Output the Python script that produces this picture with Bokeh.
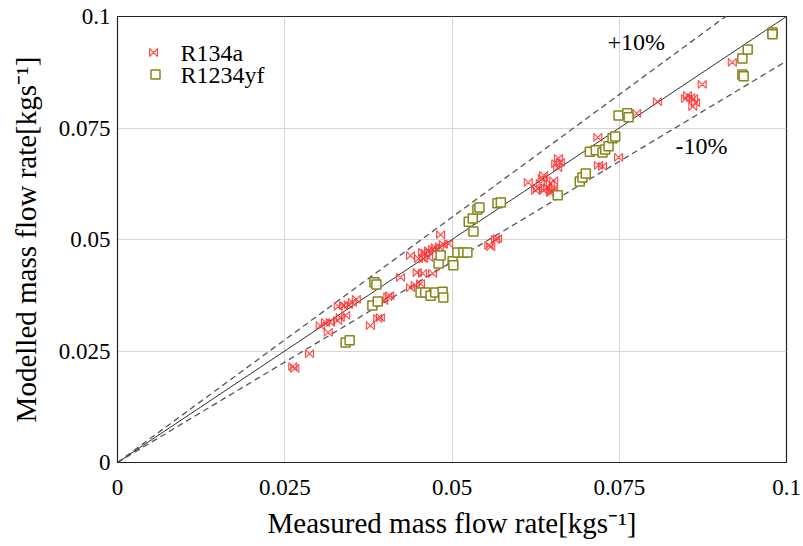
from bokeh.plotting import figure
from bokeh.models import FixedTicker, Range1d
from bokeh.core.properties import value
from bokeh.embed import file_html
from bokeh.resources import INLINE

# ---------------- data (kg/s) ----------------
r134a_measured = [0.0262, 0.0265, 0.0287, 0.0303, 0.0311, 0.0318, 0.0315, 0.0329, 0.0333,
                  0.0341, 0.0330, 0.0338, 0.0345, 0.0351, 0.0357, 0.0378, 0.0389, 0.0393,
                  0.0398, 0.0404, 0.0407, 0.0423, 0.0438, 0.0445, 0.0453, 0.0448, 0.0456,
                  0.0471, 0.0438, 0.0450, 0.0457, 0.0465, 0.0456, 0.0460, 0.0465, 0.0471,
                  0.0475, 0.0481, 0.0487, 0.0495, 0.0483, 0.0555, 0.0558, 0.0565, 0.0568,
                  0.0614, 0.0628, 0.0632, 0.0637, 0.0643, 0.0647, 0.0652, 0.0625, 0.0647,
                  0.0650, 0.0637, 0.0635, 0.0659, 0.0662, 0.0658, 0.0655, 0.0652, 0.0718,
                  0.0719, 0.0725, 0.0749, 0.0776, 0.0807, 0.0849, 0.0852, 0.0857, 0.0861,
                  0.0864, 0.0860, 0.0874, 0.0919]
r134a_modelled = [0.0215, 0.0211, 0.0244, 0.0307, 0.0314, 0.0314, 0.0292, 0.0318, 0.0325,
                  0.0330, 0.0350, 0.0352, 0.0354, 0.0359, 0.0366, 0.0307, 0.0323, 0.0325,
                  0.0363, 0.0372, 0.0374, 0.0415, 0.0392, 0.0397, 0.0401, 0.0426, 0.0424,
                  0.0424, 0.0464, 0.0457, 0.0457, 0.0460, 0.0471, 0.0469, 0.0475, 0.0478,
                  0.0482, 0.0484, 0.0489, 0.0491, 0.0511, 0.0487, 0.0484, 0.0500, 0.0502,
                  0.0628, 0.0614, 0.0626, 0.0610, 0.0617, 0.0605, 0.0614, 0.0610, 0.0626,
                  0.0608, 0.0644, 0.0637, 0.0682, 0.0673, 0.0661, 0.0670, 0.0632, 0.0729,
                  0.0666, 0.0664, 0.0684, 0.0783, 0.0809, 0.0816, 0.0823, 0.0818, 0.0816,
                  0.0807, 0.0798, 0.0848, 0.0897]

r1234yf_measured = [0.0341, 0.0347, 0.0381, 0.0389, 0.0384, 0.0387, 0.0453, 0.0460, 0.0468,
                    0.0475, 0.0486, 0.0487, 0.0480, 0.0483, 0.0501, 0.0502, 0.0508, 0.0517,
                    0.0523, 0.0525, 0.0531, 0.0532, 0.0538, 0.0541, 0.0568, 0.0573, 0.0658,
                    0.0691, 0.0695, 0.0700, 0.0706, 0.0715, 0.0725, 0.0729, 0.0734, 0.0740,
                    0.0744, 0.0749, 0.0762, 0.0764, 0.0934, 0.0936, 0.0934, 0.0942, 0.0979,
                    0.0979]
r1234yf_modelled = [0.0269, 0.0274, 0.0352, 0.0361, 0.0404, 0.0399, 0.0381, 0.0381, 0.0374,
                    0.0381, 0.0383, 0.0370, 0.0446, 0.0464, 0.0451, 0.0442, 0.0471, 0.0471,
                    0.0471, 0.0540, 0.0547, 0.0518, 0.0567, 0.0572, 0.0581, 0.0583, 0.0599,
                    0.0630, 0.0639, 0.0648, 0.0697, 0.0700, 0.0695, 0.0702, 0.0709, 0.0727,
                    0.0731, 0.0778, 0.0783, 0.0774, 0.0870, 0.0866, 0.0906, 0.0926, 0.0964,
                    0.0960]

tick_values = [0, 0.025, 0.05, 0.075, 0.1]
tick_labels = ["0", "0.025", "0.05", "0.075", "0.1"]
band = 0.10          # +/-10 % error band
axis_max = 0.1

series_names = ["R134a", "R1234yf"]
band_labels = ["+10%", "-10%"]

# ---------------- styling ----------------
FONT = "Liberation Serif"
FW, FH = 669, 446
RED = "#ff3030"
OLIVE = "#85851a"

p = figure(frame_width=FW, frame_height=FH,
           x_range=Range1d(0, axis_max), y_range=Range1d(0, axis_max),
           output_backend="svg", toolbar_location=None,
           min_border_left=117, min_border_right=17,
           min_border_top=16, min_border_bottom=84)

p.background_fill_color = "white"
p.border_fill_color = "white"
p.outline_line_color = "#222222"
p.outline_line_width = 1.2

for ax in (p.xaxis[0], p.yaxis[0]):
    ax.ticker = FixedTicker(ticks=tick_values)
    ax.major_label_overrides = {v: s for v, s in zip(tick_values, tick_labels)}
    ax.major_tick_out = 0
    ax.major_tick_in = 0
    ax.minor_tick_out = 0
    ax.minor_tick_in = 0
    ax.axis_line_color = "#222222"
    ax.major_label_text_font = FONT
    ax.major_label_text_font_size = "23px"
    ax.major_label_text_color = "black"
    ax.axis_label_text_font = FONT
    ax.axis_label_text_font_size = "29px"
    ax.axis_label_text_font_style = "normal"
    ax.axis_label_text_color = "black"

p.xaxis.axis_label = "Measured mass flow rate[kgs\u207b\u00b9]"
p.yaxis.axis_label = "Modelled mass flow rate[kgs\u207b\u00b9]"
p.xaxis.major_label_standoff = 17
p.xaxis.axis_label_standoff = 9
p.yaxis.major_label_standoff = 7
p.yaxis.axis_label_standoff = 14

p.xgrid.ticker = FixedTicker(ticks=tick_values[1:-1])
p.ygrid.ticker = FixedTicker(ticks=tick_values[1:-1])
p.grid.grid_line_color = "#d6d6d6"
p.grid.grid_line_width = 1

# ---------------- reference lines ----------------
xl = [0, axis_max]
p.line(xl, [v for v in xl], line_color="#333333", line_width=1)
p.line(xl, [v * (1 + band) for v in xl], line_color="#555555", line_width=1.3, line_dash="6 4")
p.line(xl, [v * (1 - band) for v in xl], line_color="#555555", line_width=1.3, line_dash="6 4")

# ---------------- markers ----------------
px_x = axis_max / FW
px_y = axis_max / FH
hx, hy = 4 * px_x, 4 * px_y


def bowtie(xv, yv):
    xs = [[x - hx, x + hx, x + hx, x - hx] for x in xv]
    ys = [[y - hy, y + hy, y - hy, y + hy] for y in yv]
    return xs, ys


bx, by = bowtie(r134a_measured, r134a_modelled)
p.patches(bx, by, line_color=RED, line_width=1.1, fill_color=RED, fill_alpha=0.12, line_alpha=0.85)

p.scatter(r1234yf_measured, r1234yf_modelled, marker="square", size=9,
          line_color=OLIVE, line_width=1.5, fill_color="white", fill_alpha=0.9)

# ---------------- legend (manual) ----------------
lx, ly1, ly2 = 36 * px_x, (462 - 52) * px_y, (462 - 74) * px_y
lbx, lby = bowtie([lx], [ly1])
p.patches(lbx, lby, line_color=RED, line_width=1.1, fill_color=RED, fill_alpha=0.12, line_alpha=0.85)
p.scatter([lx + 2 * px_x], [ly2], marker="square", size=9,
          line_color=OLIVE, line_width=1.5, fill_color="white")
p.text([lx + 27 * px_x] * 2, [ly1, ly2], text=series_names,
       text_font=value(FONT), text_font_size="24px", text_color="black",
       text_baseline="middle", text_align="left")

# ---------------- band labels ----------------
p.text([(607 - 117) * px_x, (675 - 117) * px_x], [(462 - 41) * px_y, (462 - 145) * px_y],
       text=band_labels, text_font=value(FONT), text_font_size="24px",
       text_color="black", text_baseline="middle", text_align="left")

open("out.html", "w").write(file_html(p, INLINE))
